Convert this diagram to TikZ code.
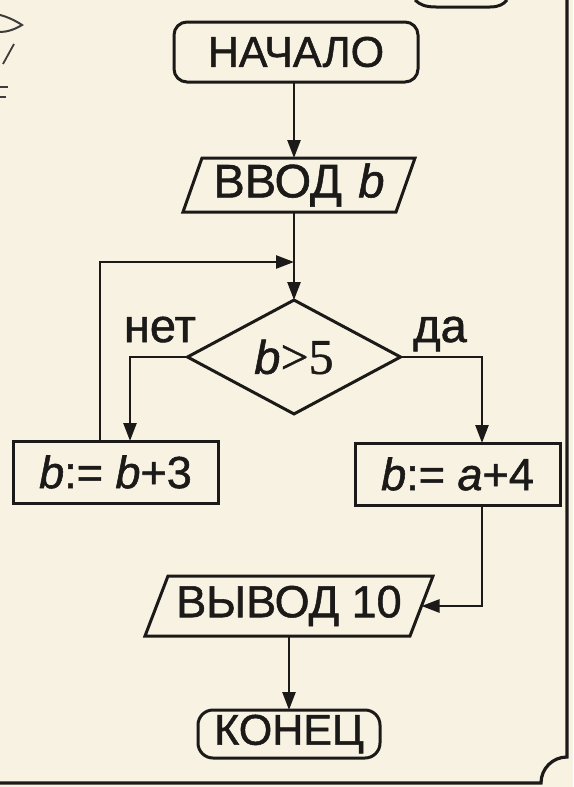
\documentclass[tikz,border=0pt]{standalone}
\usepackage{fontspec}
\setmainfont{Liberation Sans}[FakeBold=1.2]
\newfontfamily\serifnum{Liberation Serif}[FakeBold=0.8]
\usetikzlibrary{arrows.meta,shapes.geometric}
\definecolor{paper}{RGB}{248,242,226}
\definecolor{ink}{RGB}{28,26,24}
\newcommand{\fsz}[1]{\fontsize{#1}{#1}\selectfont}
\tikzset{
  shapeline/.style={draw=ink, line width=3pt},
  conn/.style={draw=ink, line width=2.5pt, -{Triangle[length=18pt,width=13pt]}},
  tx/.style={text=ink, inner sep=0pt},
  terminal/.style={shapeline, rectangle, rounded corners=13pt, outer sep=0pt, inner sep=0pt, tx},
  process/.style={shapeline, rectangle, outer sep=0pt, inner sep=0pt, minimum width=205pt, minimum height=62pt, tx, font=\fsz{45}},
  decision/.style={shapeline, diamond, outer sep=0pt, inner sep=0pt, minimum width=213pt, minimum height=103pt, tx},
  iobox/.style={rectangle, outer sep=0pt, inner sep=0pt, tx},
  branchlabel/.style={tx, font=\fsz{47}, anchor=base}
}
\begin{document}
\begin{tikzpicture}[x=1pt,y=-1pt]
\fill[paper] (0,0) rectangle (573,787);
\useasboundingbox (0,0) rectangle (573,787);

% page fragments
\draw[ink, line width=3pt] (415,0) .. controls (420,5) and (426,7) .. (436,7) -- (490,7) .. controls (499,7) and (504,4) .. (507,0);
\draw[ink!85, line width=2pt] (0,15) .. controls (8,17) and (16,21) .. (22,25) .. controls (14,30) and (6,32) .. (0,32);
\draw[ink!85, line width=1.8pt] (14,44) -- (3,64);
\draw[ink!85, line width=1.5pt] (0,87) -- (8,87) (0,97) -- (6,97);

% nodes
\node[terminal, minimum width=244pt, minimum height=60pt, font=\fsz{43}] (start) at (296,52) {НАЧАЛО};
\node[iobox, minimum width=213pt, minimum height=54pt, font=\fsz{47}] (in) at (299,185) {ВВОД\hspace{0.35em}\textit{b}};
\draw[shapeline] ([xshift=9.5pt]in.north west) -- ([xshift=9.5pt]in.north east)
  -- ([xshift=-9.5pt]in.south east) -- ([xshift=-9.5pt]in.south west) -- cycle;
\node[decision] (dec) at (294,357) {{\fsz{47}\textit{b}}{\serifnum\fsz{50}>5}};
\node[process] (b1) at (115.5,472) {\textit{b}:= \textit{b}+3};
\node[process] (b2) at (457.5,474) {\textit{b}:= \textit{a}+4};
\node[iobox, minimum width=265pt, minimum height=60pt, font=\fsz{45}] (out) at (289,606) {ВЫВОД 10};
\draw[shapeline] ([xshift=11.5pt]out.north west) -- ([xshift=11.5pt]out.north east)
  -- ([xshift=-11.5pt]out.south east) -- ([xshift=-11.5pt]out.south west) -- cycle;
\node[terminal, minimum width=182pt, minimum height=48pt, rounded corners=15pt, font=\fsz{43}] (end) at (289,734) {КОНЕЦ};

\node[branchlabel] (no) at (160,342) {нет};
\node[branchlabel] (yes) at (440,342) {да};

% connectors
\coordinate (loopx) at (100,262);
\coordinate (lbx) at (130,0);
\coordinate (rbx) at (482,0);
\draw[conn] (start.south -| dec.north) -- (in.north -| dec.north);
\draw[conn] (in.south -| dec.north) -- (dec.north);
\draw[conn] (b1.north -| loopx) -- (loopx) -- (loopx -| dec.north);
\draw[conn] (dec.west) -| (lbx |- b1.north);
\draw[conn] (dec.east) -| (rbx |- b2.north);
\draw[conn] (rbx |- b2.south) |- (out.east);
\draw[conn] (out.south -| end.north) -- (end.north);

% page border
\draw[ink, line width=3.2pt] (567,-2) -- (567,757) .. controls (552.6,757) and (541,768.6) .. (541,783) -- (-2,783);
\end{tikzpicture}
\end{document}
